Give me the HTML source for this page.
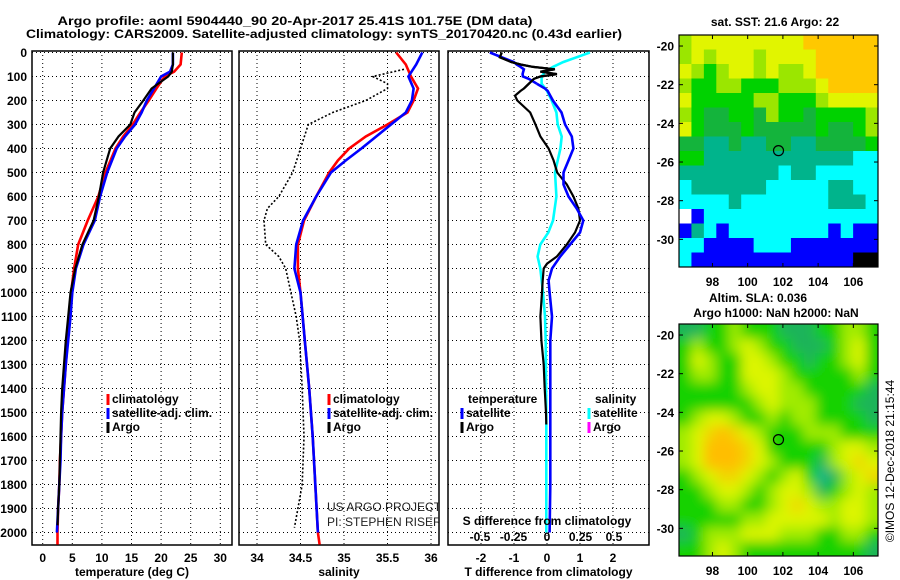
<!DOCTYPE html>
<html><head><meta charset="utf-8"><style>
html,body{margin:0;padding:0;background:#fff;}
svg{display:block;font-family:"Liberation Sans",Arial,sans-serif;}
.b{font-weight:bold;font-size:12px;}
.n{font-size:12px;}
</style></head><body>
<svg id="fig" width="900" height="580" viewBox="0 0 900 580">
<defs>
<filter id="blur" x="-5%" y="-5%" width="110%" height="110%"><feGaussianBlur stdDeviation="6"/></filter>
<clipPath id="cm2"><rect x="679" y="324" width="199" height="232"/></clipPath>
</defs>
<text class="b" x="295" y="25" text-anchor="middle" textLength="475" lengthAdjust="spacingAndGlyphs">Argo profile: aoml 5904440_90 20-Apr-2017 25.41S 101.75E (DM data)</text>
<text class="b" x="324" y="38" text-anchor="middle" textLength="596" lengthAdjust="spacingAndGlyphs">Climatology: CARS2009. Satellite-adjusted climatology: synTS_20170420.nc (0.43d earlier)</text>
<g id="p1"></g>
<g id="p2"></g>
<g id="p3"></g>
<g id="m1"></g>
<g id="m2"></g>
<text class="b" x="775" y="26" text-anchor="middle">sat. SST: 21.6 Argo: 22</text>
<text class="b" x="758" y="302" text-anchor="middle">Altim. SLA: 0.036</text>
<text class="b" x="776" y="317" text-anchor="middle">Argo h1000: NaN h2000: NaN</text>
<text class="n" x="0" y="0" text-anchor="middle" transform="translate(894,461) rotate(-90)">©IMOS 12-Dec-2018 21:15:44</text>
</svg>
<script>
// ---- profile data ----
const tDepth = [0,50,80,100,150,200,250,300,350,400,500,600,700,800,900,1000,1100,1200,1300,1400,1500,1600,1700,1800,1900,2000,2050];
const tClim  = [23.5,23.3,22.2,20.6,19.2,17.9,16.5,15.2,13.6,12.3,10.6,9.4,7.6,6.0,5.3,4.8,4.5,4.2,3.9,3.6,3.3,3.1,2.9,2.8,2.6,2.5,2.5];
const tSat   = [22,22,21.5,20.0,18.8,17.6,16.7,15.6,13.9,12.5,10.9,9.7,8.8,6.9,5.6,5.0,4.7,4.3,3.9,3.6,3.3,3.1,3.0,2.8,2.6,2.4];
const tArgo  = [22,22,21.8,21.2,18.4,17.0,15.5,14.8,12.8,11.4,10.2,9.5,8.6,6.7,5.5,4.7,4.3,3.9,3.6,3.3,3.1,3.0,2.9,2.8,2.6,2.5];
const sDepth = [0,50,100,150,200,250,300,350,400,450,500,600,700,800,900,1000,1200,1400,1600,1800,2000,2050];
const sClim  = [35.6,35.71,35.77,35.85,35.8,35.73,35.5,35.25,35.06,34.93,34.83,34.68,34.54,34.47,34.47,34.5,34.55,34.6,34.64,34.67,34.7,34.72];
const sSat   = [35.9,35.83,35.74,35.8,35.78,35.71,35.54,35.37,35.2,35.02,34.85,34.68,34.53,34.45,34.43,34.5,34.55,34.6,34.64,34.67,34.7];
const aDepth = [70,100,130,150,200,250,300,400,500,600,650,700,800,850,900,1000,1100,1200,1400,1600,1800,1900,1980];
const sArgo  = [35.69,35.33,35.5,35.5,35.25,34.87,34.59,34.5,34.41,34.25,34.12,34.08,34.1,34.25,34.33,34.39,34.45,34.49,34.52,34.54,34.52,34.47,34.43];
const dDepth = [0,20,40,50,60,70,80,90,100,110,130,150,160,180,200,250,300,350,400,450,500,550,600,650,700,750,800,850,880,900,950,1000,1100,1200,1300,1400,1500,1550];
const dTSat  = [-1.73,-1.37,-1.0,-0.92,-0.8,-0.7,-0.72,-0.74,-0.73,-0.55,-0.31,-0.06,0.02,0.1,0.18,0.44,0.55,0.75,0.8,0.65,0.5,0.5,0.65,0.9,1.1,1.0,0.7,0.4,0.25,0.15,0.05,0.08,0.15,0.1,0.1,0.1,0.1,0.1];
const dTArgo = [-1.37,-1.43,-1.08,-0.8,-0.42,0.24,-0.2,0.3,-0.2,-0.4,-0.55,-0.7,-0.8,-0.97,-0.9,-0.51,-0.35,-0.2,0.05,0.2,0.31,0.6,0.8,0.95,1.0,0.85,0.6,0.3,0.0,-0.1,-0.13,-0.15,-0.2,-0.17,-0.1,-0.07,-0.03,-0.02];
const sdDepth = [0,20,40,60,80,100,130,160,200,250,300,350,400,500,600,700,750,800,850,900,1000,1100,1200,1500,2000];
const dSSat   = [0.32,0.22,0.12,0.045,-0.015,-0.04,-0.04,0,0.035,0.07,0.08,0.11,0.1,0.06,0.07,0.045,0.01,-0.05,-0.07,-0.05,-0.03,-0.015,-0.01,-0.005,-0.005];
const tTicks = [0,5,10,15,20,25,30];
const sTicks = [34,34.5,35,35.5,36];
const sTickLabels = ["34","34.5","35","35.5","36"];
const dTicks = [-2,-1,0,1,2];
const sdTicks = [-0.5,-0.25,0,0.25,0.5];
const sdTickLabels = ["-0.5","-0.25","0","0.25","0.5"];
const depthTicks = [0,100,200,300,400,500,600,700,800,900,1000,1100,1200,1300,1400,1500,1600,1700,1800,1900,2000];
// ---- map data ----
const sstRows = [
"LYYYYYYYYYOOOOOO","LYLYYYLYYYYOOOOO","YLGLYYLYLLYOOOOO","LGGLLGGGLLLYOOOO",
"YGGGGGLLGGGLYYYY","LGDDGGDLGGDGGGGL","YGDDDGDDDDDGDDGL","DDTTDTTDDTTDDDDG",
"GGTTTTTTTTTTTTCC","TTTTTTTTCTTCCCCC","CTTTTTTCCCCCTTCC","CCCCTCCCCCCCTTTC",
"WBCCCCCCCCCCCCCC","BTCBCCCCCCCCBCBB","CCBBBBCCCBBBBBBB","CBBBBBBBBBBBBBKK"];
const slaRows = [
"DDGGLGGGDDDGGLLG","GLGGLYLGGDDDGLYG","GYLGGYYLGGDGGLYG","GLLGGYYYLGGGGGLG",
"GGGGGLYYLLGGGGGD","GGGGGGLYLLLGGGDD","GLYYLGGLGLLGGGGD","LYAOAYLGGGLLLGGG",
"LYOOOAYGGGGGLYYL","LYOOOAYLGGGDLYAY","GLYAAYLGLYGTDLYA","GGLYYLGLYYLDGLYL",
"GGGLLGGLYAYLLYYL","GGGGGLLYYYYYLYYL","DGLLLYYYLLLGGLLG","GGLYLGGGGGGGGGGD"];
const lonTicks = [98,100,102,104,106];
const latTicks = [-20,-22,-24,-26,-28,-30];
const argoLon = 101.75, argoLat = -25.41;

const NS="http://www.w3.org/2000/svg";
function el(parent,tag,attrs){const e=document.createElementNS(NS,tag);for(const k in attrs)e.setAttribute(k,attrs[k]);parent.appendChild(e);return e;}
const Y0=51, Y1=545;
const yD = d => 52.5 + d*0.24;

function drawLine(g,xs,ds,xf,color,w,name,dash){
  const pts=xs.map((v,i)=>xf(v).toFixed(1)+","+yD(ds[i]).toFixed(1)).join(" ");
  const p=el(g,"polyline",{points:pts,fill:"none",stroke:color,"stroke-width":w,"stroke-linejoin":"miter"});
  if(dash)p.setAttribute("stroke-dasharray",dash);
  
  
}
function frame(g,x0,x1,vx,xf,labels,title,showDepth,prefix){
  depthTicks.forEach(d=>{
    const l=el(g,"line",{x1:x0,x2:x1,y1:yD(d),y2:yD(d),stroke:"#000","stroke-width":1,"stroke-dasharray":"1,3"});
    
    
    if(showDepth){
      const t=el(g,"text",{x:27,y:yD(d)+4.5,"text-anchor":"end","class":"b"});t.textContent=d;
      
      
    }
  });
  vx.forEach((v,i)=>{
    const l=el(g,"line",{x1:xf(v),x2:xf(v),y1:Y0,y2:Y1,stroke:"#000","stroke-width":1,"stroke-dasharray":"1,3"});
    
    
    const t=el(g,"text",{x:xf(v),y:562,"text-anchor":"middle","class":"b"});t.textContent=labels[i];
    
    
  });
  const r=el(g,"rect",{x:x0,y:Y0,width:x1-x0,height:Y1-Y0,fill:"none",stroke:"#000","stroke-width":1.5});
  
  
  const t=el(g,"text",{x:(x0+x1)/2,y:576,"text-anchor":"middle","class":"b"});t.textContent=title;
  
  
}
function legend(g,x,y,color,label){
  const r=el(g,"rect",{x:x-1.5,y:y-9,width:3,height:11,fill:color});
  
  
  const t=el(g,"text",{x:x+4,y:y,"class":"b"});t.textContent=label;
  
  
}
// Panel 1
const p1=document.getElementById("p1");
const xT = v => 42.7 + v*5.92;
frame(p1,32,232,tTicks,xT,tTicks.map(String),"temperature (deg C)",true,"temperature");
drawLine(p1,tClim,tDepth,xT,"#ff0000",2.6,"climatology-temperature-line");
drawLine(p1,tSat,tDepth,xT,"#0000ff",2.6,"satellite-temperature-line");
drawLine(p1,tArgo,tDepth.slice(0,tArgo.length).map((d,i)=>i==tArgo.length-1?1970:d),xT,"#000000",2.2,"argo-temperature-line");
legend(p1,108,403,"#ff0000","climatology");
legend(p1,108,417,"#0000ff","satellite-adj. clim.");
legend(p1,108,431,"#000000","Argo");
// Panel 2
const p2=document.getElementById("p2");
const xS = v => 257 + (v-34)*87;
frame(p2,239,439,sTicks,xS,sTickLabels,"salinity",false,"salinity");
drawLine(p2,sArgo,aDepth,xS,"#000000",1.6,"argo-salinity-line","2,2");
drawLine(p2,sClim,sDepth,xS,"#ff0000",2.6,"climatology-salinity-line");
drawLine(p2,sSat,sDepth.slice(0,sSat.length),xS,"#0000ff",2.6,"satellite-salinity-line");
legend(p2,329,403,"#ff0000","climatology");
legend(p2,329,417,"#0000ff","satellite-adj. clim.");
legend(p2,329,431,"#000000","Argo");
const cp=el(p2,"clipPath",{id:"c2"});el(cp,"rect",{x:239,y:Y0,width:200,height:Y1-Y0});
const tg=el(p2,"g",{"clip-path":"url(#c2)"});
[["US ARGO PROJECT",511],["PI: STEPHEN RISER",526]].forEach(a=>{
  const t=el(tg,"text",{x:327,y:a[1],"class":"n",fill:"#222"});t.textContent=a[0];
  
  
});
// Panel 3
const p3=document.getElementById("p3");
const xDT = v => 547 + v*33;
const xDS = v => 547 + v*134;
frame(p3,448,649,dTicks,xDT,dTicks.map(String),"T difference from climatology",false,"t-difference");
drawLine(p3,dSSat,sdDepth,xDS,"#00ffff",2.6,"satellite-salinity-difference-line");
drawLine(p3,dTArgo,dDepth,xDT,"#000000",2.2,"argo-temperature-difference-line");
drawLine(p3,dTSat.slice(0,11),dDepth.slice(0,11),xDT,"#0000ff",2.6,"satellite-temperature-difference-line-top");
drawLine(p3,dTSat.slice(10).concat([0.1,0.08]),dDepth.slice(10).concat([1800,2000]),xDT,"#0000ff",2.6,"satellite-temperature-difference-line");
drawLine(p3,dTArgo.slice(0,12),dDepth.slice(0,12),xDT,"#000000",2.2,"argo-temperature-difference-line-top");
let t=el(p3,"text",{x:468,y:403,"class":"b"});t.textContent="temperature";


t=el(p3,"text",{x:595,y:403,"class":"b"});t.textContent="salinity";


legend(p3,462,417,"#0000ff","satellite");
legend(p3,462,431,"#000000","Argo");
legend(p3,589,417,"#00ffff","satellite");
legend(p3,589,431,"#ff00ff","Argo");
t=el(p3,"text",{x:547,y:525,"text-anchor":"middle","class":"b"});t.textContent="S difference from climatology";


sdTicks.forEach((v,i)=>{
  const tt=el(p3,"text",{x:xDS(v),y:541,"text-anchor":"middle","class":"b"});tt.textContent=sdTickLabels[i];
  
  
});
// Maps
const pal={O:"#ffc800",Y:"#e1f500",L:"#9be600",G:"#00d200",D:"#14b43c",T:"#00b48c",C:"#00ffff",B:"#0000ff",K:"#000000",W:"#ffffff",R:"#ff0000",A:"#f5dc00"};
const slaPal={O:"#ffbe00",Y:"#dcf500",L:"#a0eb00",G:"#14d200",D:"#1eb45a",T:"#14b48c",A:"#f0d700"};
function drawMap(id,rows,p,top,bot,lonLab,smooth){
  const g0=document.getElementById(id);
  const lon0=96.1,lon1=107.4,lat0=-19.43;
  const x0=679,x1=878;
  const xL=v=>x0+(v-lon0)*(x1-x0)/(lon1-lon0);
  const yL=v=>top+(lat0-v)*(bot-top)/12.0;
  let g=g0;
  if(smooth){
    const outer=el(g0,"g",{"clip-path":"url(#cm2)"});
    el(outer,"rect",{x:x0,y:top,width:x1-x0,height:bot-top,fill:p.G});
    g=el(outer,"g",{filter:"url(#blur)"});
  }
  const nr=rows.length,nc=rows[0].length;
  const dLon=(lon1-lon0)/nc,dLat=12.0/nr;
  rows.forEach((row,r)=>{
    for(let c=0;c<nc;c++){
      const lonA=lon0+c*dLon, latA=lat0-r*dLat;
      const x=xL(lonA),y=yL(latA);
      const ext=smooth?1:0;
      const cell=el(g,"rect",{x:(x-(c==0?ext*10:0)).toFixed(2),y:(y-(r==0?ext*10:0)).toFixed(2),width:(xL(lonA+dLon)-x+0.5+(c==0||c==nc-1?ext*10:0)).toFixed(2),height:(yL(latA-dLat)-y+0.5+(r==0||r==nr-1?ext*10:0)).toFixed(2),fill:p[row[c]]});
      
      
    }
  });
  const fr=el(g0,"rect",{x:x0,y:top,width:x1-x0,height:bot-top,fill:"none",stroke:"#000","stroke-width":1.2});
  
  
  lonTicks.forEach(v=>{
    el(g0,"line",{x1:xL(v),x2:xL(v),y1:top,y2:top+4,stroke:"#000"});
    el(g0,"line",{x1:xL(v),x2:xL(v),y1:bot,y2:bot-4,stroke:"#000"});
    const tt=el(g0,"text",{x:xL(v),y:lonLab,"text-anchor":"middle","class":"b"});tt.textContent=v;
    
    
  });
  latTicks.forEach(v=>{
    el(g0,"line",{x1:x1,x2:x1-4,y1:yL(v),y2:yL(v),stroke:"#000"});
    el(g0,"line",{x1:x0,x2:x0+4,y1:yL(v),y2:yL(v),stroke:"#000"});
    const tt=el(g0,"text",{x:674,y:yL(v)+4.5,"text-anchor":"end","class":"b"});tt.textContent=v;
    
    
  });
  const ci=el(g0,"circle",{cx:xL(argoLon),cy:yL(argoLat),r:5,fill:"none",stroke:"#000","stroke-width":1.2});
  
  
}
drawMap("m1",sstRows,pal,35,267,286,false);
drawMap("m2",slaRows,slaPal,324,556,575,true);
</script>
</body></html>
